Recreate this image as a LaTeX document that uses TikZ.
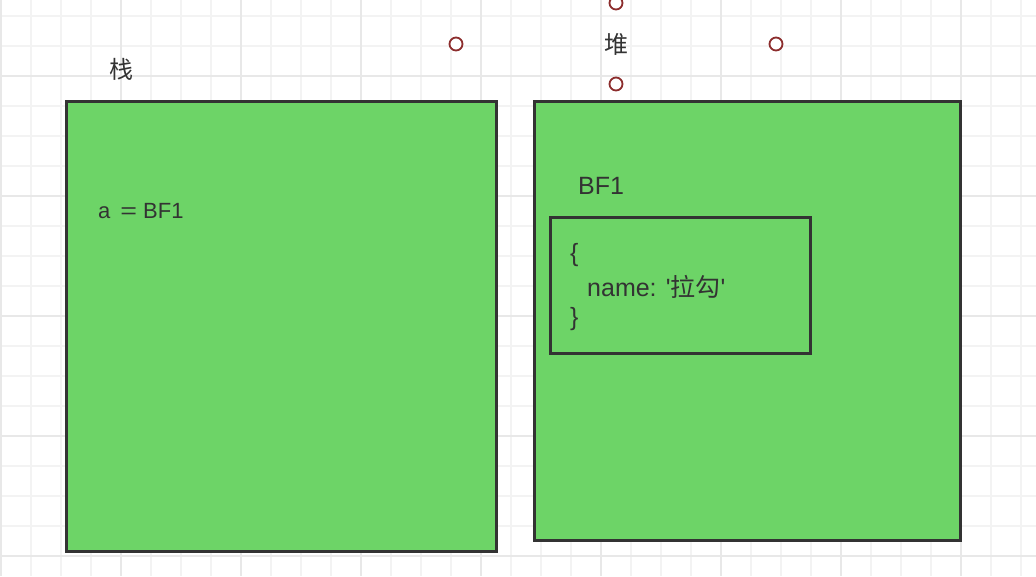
\documentclass[tikz,border=0pt]{standalone}
\usepackage{graphicx}
\usepackage{fontspec}
\setmainfont{Liberation Sans}
\newfontfamily\cjk{Noto Sans CJK SC}
\definecolor{gridminor}{RGB}{243,243,243}
\definecolor{gridmajor}{RGB}{232,232,232}
\definecolor{boxgreen}{RGB}{109,212,103}
\definecolor{boxline}{RGB}{51,51,51}
\definecolor{txt}{RGB}{51,51,51}
\definecolor{handle}{RGB}{140,45,45}
\tikzset{
  memblock/.style={draw=boxline, line width=3pt, fill=boxgreen},
  lbl/.style={inner sep=0pt, text=txt},
  handlept/.style={circle, draw=handle, line width=1.8pt, fill=white, minimum size=13pt, inner sep=0pt},
}
\begin{document}
\begin{tikzpicture}[x=1pt,y=-1pt]
\useasboundingbox (0,0) rectangle (1036,576);
\fill[white] (0,0) rectangle (1036,576);
% grid
\foreach \i in {0,...,34} {\draw[gridminor, line width=1.5pt] ({1+30*\i},0) -- ({1+30*\i},576);}
\foreach \j in {0,...,19} {\draw[gridminor, line width=1.5pt] (0,{16+30*\j}) -- (1036,{16+30*\j});}
\foreach \i in {0,...,8} {\draw[gridmajor, line width=2pt] ({1+120*\i},0) -- ({1+120*\i},576);}
\foreach \j in {0,...,4} {\draw[gridmajor, line width=2pt] (0,{76+120*\j}) -- (1036,{76+120*\j});}
% boxes
\draw[memblock] (66,101) rectangle (496,551);
\coordinate (stackbox) at (281,326);
\draw[memblock] (534,101) rectangle (960,540);
\coordinate (heapbox) at (747,320);
\draw[memblock] (550,217) rectangle (810,353);
% titles
\node[lbl, font=\cjk\fontsize{24}{28}\selectfont] (stacktitle) at (121,69) {栈};
\node[lbl, font=\cjk\fontsize{24}{28}\selectfont] (heaptitle) at (616,44) {堆};
% handles
\node[handlept] (h1) at (456,44) {};
\node[handlept] (h2) at (776,44) {};
\node[handlept] (h3) at (616,3) {};
\node[handlept] (h4) at (616,84) {};
% texts
\node[lbl, anchor=base west, font=\fontsize{22}{26}\selectfont] (aval) at (98,218) {a\hskip 10pt\scalebox{1.3}[1]{=}\hskip 6ptBF1};
\node[lbl, anchor=base west, font=\fontsize{25}{30}\selectfont] (bf) at (578,194) {BF1};
\node[lbl, anchor=base west, font=\fontsize{25}{30}\selectfont] (lb) at (570,261) {\{};
\node[lbl, anchor=base west, font=\fontsize{25}{30}\selectfont] (nm) at (587,296) {name: \textquotesingle{\cjk 拉勾}\textquotesingle};
\node[lbl, anchor=base west, font=\fontsize{25}{30}\selectfont] (rb) at (570,325) {\}};
\end{tikzpicture}
\end{document}
